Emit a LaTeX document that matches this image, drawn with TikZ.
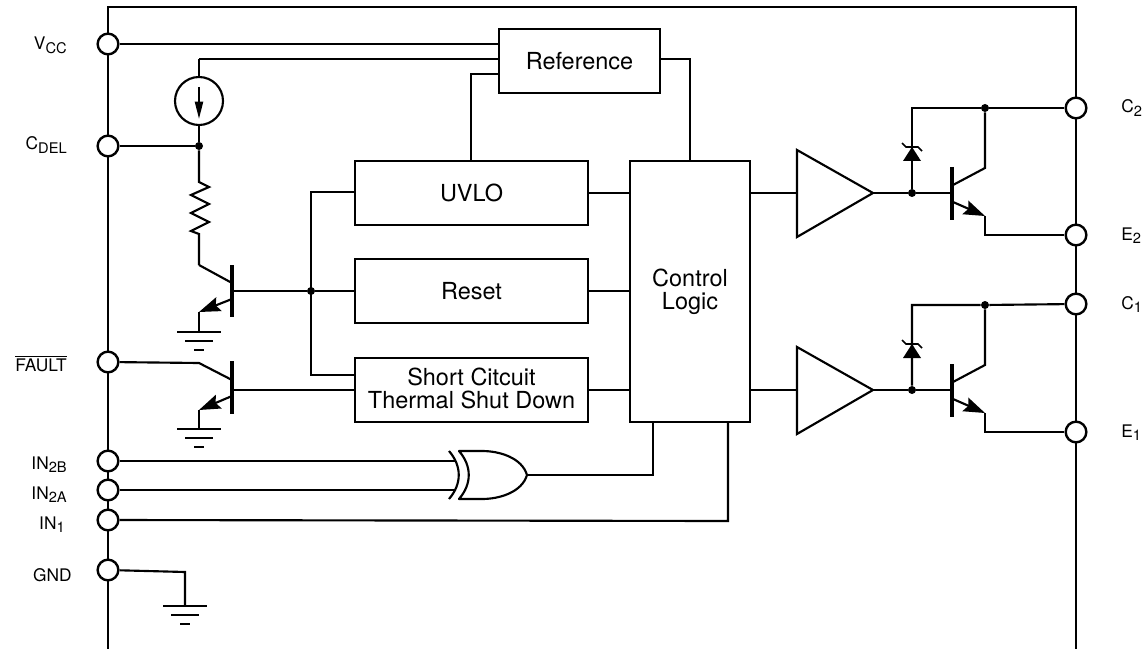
\documentclass[tikz,border=0pt]{standalone}
\usepackage{fontspec}
\setmainfont{TeX Gyre Heros}
\usetikzlibrary{arrows.meta}
\usetikzlibrary{calc}
\newcommand{\pinsub}[1]{\raisebox{-2.6pt}{\fontsize{11}{11}\selectfont #1}}
\tikzset{
  wire/.style={line width=1.6pt},
  pinnode/.style={circle, draw, line width=1.8pt, fill=white, minimum size=15.5pt, inner sep=0pt},
  dotnode/.style={circle, fill=black, minimum size=6pt, inner sep=0pt},
  blockbox/.style={rectangle, draw, line width=1.6pt, align=center, inner sep=0pt,
    font=\fontsize{17.6}{17.25}\selectfont},
  pinlabel/.style={font=\fontsize{13}{15}\selectfont, inner sep=0pt},
  base/.style={line width=3.4pt},
  headtip/.style={-{Stealth[length=16pt,width=11pt,inset=2.5pt]}},
  gnd/.pic={
    \draw[wire] (-22,0) -- (22,0);
    \draw[wire] (-14,9) -- (14,9);
    \draw[line width=2pt] (-5,18) -- (5,18);
  }
}
\begin{document}
\begin{tikzpicture}[x=.75pt, y=-.75pt]
  \useasboundingbox (0,0) rectangle (1146,649);
  % package outline
  \coordinate (railA) at (108,649);
  \coordinate (railB) at (108,7);
  \coordinate (railC) at (1076,7);
  \coordinate (railD) at (1076,649);
  \draw[wire] (railA) -- (railB) -- (railC) -- (railD);

  % pins
  \node[pinnode] (vcc) at (108,44) {};
  \node[pinnode] (cdel) at (108,146) {};
  \node[pinnode] (fault) at (108,362) {};
  \node[pinnode] (intb) at (108,461) {};
  \node[pinnode] (inta) at (108,490) {};
  \node[pinnode] (ina) at (108,520) {};
  \node[pinnode] (gndpin) at (108,570) {};
  \node[pinnode] (ctwo) at (1076,108) {};
  \node[pinnode] (etwo) at (1076,235) {};
  \node[pinnode] (cone) at (1076,304) {};
  \node[pinnode] (eone) at (1076,432) {};

  % pin labels
  \node[pinlabel, anchor=base east] (lvcc) at (67,50) {V\pinsub{CC}};
  \node[pinlabel, anchor=base east] (lcdel) at (67,150) {C\pinsub{DEL}};
  \node[pinlabel, anchor=base east] (lfault) at (67,371) {$\overline{\mbox{FAULT}}$};
  \node[pinlabel, anchor=base east] (lintb) at (67,469) {IN\pinsub{2B}};
  \node[pinlabel, anchor=base east] (linta) at (67,499) {IN\pinsub{2A}};
  \node[pinlabel, anchor=base east] (lina) at (65,529) {IN\pinsub{1}};
  \node[pinlabel, anchor=base east] (lgnd) at (72,581) {GND};
  \node[pinlabel, anchor=base west] (lctwo) at (1121,113) {C\pinsub{2}};
  \node[pinlabel, anchor=base west] (letwo) at (1121,240) {E\pinsub{2}};
  \node[pinlabel, anchor=base west] (lcone) at (1121,309) {C\pinsub{1}};
  \node[pinlabel, anchor=base west] (leone) at (1121,437) {E\pinsub{1}};

  % blocks
  \node[blockbox, minimum width=120.75pt, minimum height=48pt] (ref) at (579.5,61) {Reference};
  \node[blockbox, minimum width=174.75pt, minimum height=48pt] (uvlo) at (471.5,193) {UVLO};
  \node[blockbox, minimum width=174.75pt, minimum height=48pt] (reset) at (471.5,291) {Reset};
  \node[blockbox, minimum width=174.75pt, minimum height=48pt, text depth=2pt] (short) at (471.5,390)
    {Short Citcuit\\Thermal Shut Down};
  \node[blockbox, minimum width=90pt, minimum height=195.75pt] (ctrl) at (690,291.5) {Control\\Logic};

  % reference wires
  \coordinate (reftwo) at ($(ref.west)+(0,-2)$);
  \coordinate (refthree) at ($(ref.west)+(0,13)$);
  \coordinate (refout) at ($(ref.east)+(0,-2)$);
  \coordinate (srctop) at (199,59);
  \coordinate (refdrop) at (471,74);
  \draw[wire] (vcc) -- (vcc -| ref.west);
  \draw[wire] (reftwo) -- (srctop);
  \draw[wire] (refthree) -- (refdrop) -- (refdrop |- uvlo.north);
  \draw[wire] (refout) -- (refout -| ctrl) -- (ctrl);

  % current source and resistor
  \node[circle, draw, line width=1.6pt, minimum size=36pt, inner sep=0pt] (src) at (199,101) {};
  \coordinate (srcarrowa) at (199,87);
  \coordinate (srcarrowb) at (199,119);
  \draw[wire, -{Stealth[length=13pt,width=6pt,inset=0pt]}] (srcarrowa) -- (srcarrowb);
  \node[dotnode] (jdel) at (199,146) {};
  \draw[wire] (srctop) -- (src);
  \draw[wire] (src) -- (jdel);
  \draw[wire] (cdel) -- (jdel);
  \coordinate (rescoll) at (199,265);
  \draw[wire, line join=miter] (jdel) -- (199,182) -- (209,187) -- (191,195) -- (209,204)
    -- (191,213) -- (209,222) -- (191,231) -- (199,234) -- (rescoll);

  % left transistors
  \coordinate (qatop) at (232,265);
  \coordinate (qabot) at (232,317);
  \coordinate (qabase) at (232,291);
  \coordinate (qaemit) at (199,312);
  \coordinate (gnda) at (199,332);
  \draw[base] (qatop) -- (qabot);
  \draw[wire] (rescoll) -- (232,283);
  \draw[wire, headtip] (232,299) -- (qaemit);
  \draw[wire] (qaemit) -- (gnda);
  \pic at (gnda) {gnd};

  \coordinate (qbtop) at (232,361);
  \coordinate (qbbot) at (232,414);
  \coordinate (qbbase) at (232,390);
  \coordinate (qbcoll) at (199,363);
  \coordinate (qbemit) at (199,410);
  \coordinate (gndb) at (199,429);
  \draw[base] (qbtop) -- (qbbot);
  \draw[wire] (fault) -- (qbcoll) -- (232,380);
  \draw[wire, headtip] (232,396) -- (qbemit);
  \draw[wire] (qbemit) -- (gndb);
  \pic at (gndb) {gnd};

  % sense bus
  \node[dotnode] (jbus) at (311,291) {};
  \draw[wire] (qabase) -- (jbus) -- (reset);
  \draw[wire] (qbbase) -- (short.west |- qbbase);
  \coordinate (busup) at (311,192);
  \coordinate (busdn) at (311,375);
  \draw[wire] (uvlo.west |- busup) -- (busup) -- (busdn) -- (short.west |- busdn);

  % blocks to logic
  \draw[wire] (uvlo) -- (ctrl.west |- uvlo);
  \draw[wire] (reset) -- (ctrl.west |- reset);
  \draw[wire] (short) -- (ctrl.west |- short);

  % output stages
  \foreach \y/\c/\e/\n in {0/ctwo/etwo/a, 197/cone/eone/b}{
    \begin{scope}[yshift=-.75*\y]
      \coordinate (tria\n) at (797,150);
      \coordinate (trib\n) at (797,237);
      \coordinate (apex\n) at (873,193);
      \coordinate (trin\n) at (797,193);
      \node[dotnode] (jz\n) at (912,193) {};
      \coordinate (bar\n) at (952,193);
      \coordinate (zen\n) at (912,147);
      \coordinate (ztop\n) at (912,108);
      \node[dotnode] (jc\n) at (985,108) {};
      \coordinate (cbend\n) at (985,168);
      \coordinate (ebend\n) at (985,216);
      \coordinate (eout\n) at (985,235);
    \end{scope}
    \draw[wire] (tria\n) -- (apex\n) -- (trib\n) -- cycle;
    \draw[wire] (ctrl.east |- trin\n) -- (trin\n);
    \draw[wire] (apex\n) -- (jz\n) -- (bar\n);
    \draw[wire] (jz\n) -- (ztop\n) -- (jc\n) -- (\c);
    \draw[base] ($(bar\n)+(0,-26)$) -- ($(bar\n)+(0,27)$);
    \draw[wire] (jc\n) -- (cbend\n) -- ($(bar\n)+(1,-8)$);
    \draw[wire, headtip] ($(bar\n)+(1,9)$) -- (ebend\n);
    \draw[wire] (ebend\n) -- (eout\n) -- (\e);
    \fill ($(zen\n)$) -- ($(zen\n)+(9,14)$) -- ($(zen\n)+(-9,14)$) -- cycle;
    \draw[line width=1.3pt] ($(zen\n)+(-10,-4)$) -- ($(zen\n)+(-6,0)$) -- ($(zen\n)+(6,0)$) -- ($(zen\n)+(10,4)$);
  }

  % exclusive or gate
  \coordinate (xorb) at (456,461);
  \coordinate (xora) at (456,490);
  \coordinate (xorout) at (527,475);
  \draw[wire] (449,451) .. controls (462,466) and (462,484) .. (449,499);
  \draw[wire, line join=round] (459,451) .. controls (472,466) and (472,484) .. (459,499)
    -- (482,499) .. controls (500,499) and (522,492) .. (xorout)
    .. controls (522,458) and (500,451) .. (482,451) -- cycle;
  \draw[wire] (intb) -- (xorb);
  \draw[wire] (inta) -- (xora);
  \coordinate (xorup) at (653,475);
  \draw[wire] (xorout) -- (xorup) -- (xorup |- ctrl.south);
  \coordinate (inaup) at (728,521);
  \draw[wire] (ina) -- (inaup) -- (inaup |- ctrl.south);

  % ground pin
  \coordinate (gndbend) at (185,572);
  \coordinate (gndc) at (185,606);
  \draw[wire] (gndpin) -- (gndbend) -- (gndc);
  \pic at (gndc) {gnd};
\end{tikzpicture}
\end{document}
